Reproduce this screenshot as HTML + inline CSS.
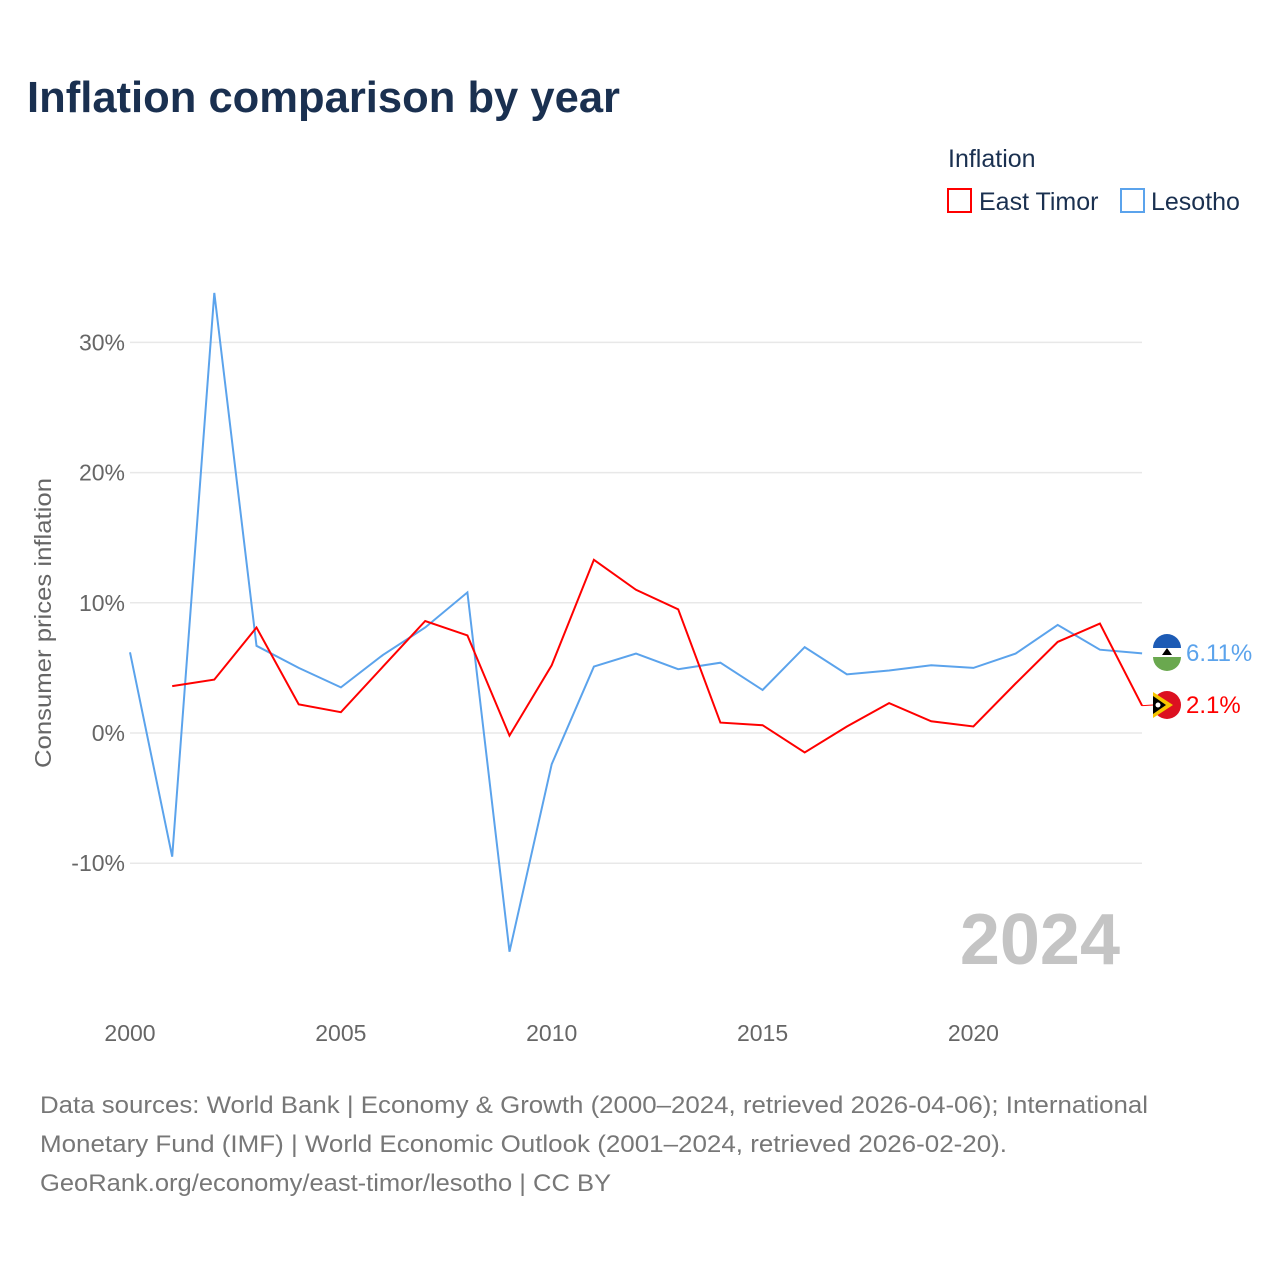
<!DOCTYPE html>
<html><head><meta charset="utf-8">
<style>
body{margin:0;background:#fff;font-family:"Liberation Sans",sans-serif;}
#wrap{position:relative;width:1280px;height:1280px;}
</style></head>
<body>
<div id="wrap">
<svg id="chart" width="1280" height="1280" style="position:absolute;left:0;top:0">
<text x="27" y="112" font-size="44" font-weight="bold" fill="#1a3050" textLength="593" lengthAdjust="spacingAndGlyphs">Inflation comparison by year</text>
<text x="948" y="167" font-size="25" fill="#1a3050">Inflation</text>
<rect x="948" y="189" width="23" height="23" fill="none" stroke="#ff0000" stroke-width="2"/>
<text x="979" y="210" font-size="25" fill="#1a3050">East Timor</text>
<rect x="1121" y="189" width="23" height="23" fill="none" stroke="#5ba3ec" stroke-width="2"/>
<text x="1151" y="210" font-size="25" fill="#1a3050">Lesotho</text>
<text transform="translate(51,623) rotate(-90)" text-anchor="middle" font-size="23" fill="#666" textLength="290" lengthAdjust="spacingAndGlyphs">Consumer prices inflation</text>
<g id="grid"></g><g id="yt"></g><g id="xt"></g><g id="lines"></g>
<text x="1120" y="964" text-anchor="end" font-size="72" font-weight="bold" fill="#c4c4c4">2024</text>
<text font-size="24" fill="#777"><tspan x="40" y="1113" textLength="1108" lengthAdjust="spacingAndGlyphs">Data sources: World Bank | Economy &amp; Growth (2000–2024, retrieved 2026-04-06); International</tspan><tspan x="40" y="1152" textLength="967" lengthAdjust="spacingAndGlyphs">Monetary Fund (IMF) | World Economic Outlook (2001–2024, retrieved 2026-02-20).</tspan><tspan x="40" y="1191" textLength="571" lengthAdjust="spacingAndGlyphs">GeoRank.org/economy/east-timor/lesotho | CC BY</tspan></text>
</svg>
</div>
<script>
const years=[2000,2001,2002,2003,2004,2005,2006,2007,2008,2009,2010,2011,2012,2013,2014,2015,2016,2017,2018,2019,2020,2021,2022,2023,2024];
const lesotho=[6.2,-9.5,33.8,6.7,5.0,3.5,6.0,8.1,10.8,-16.8,-2.4,5.1,6.1,4.9,5.4,3.3,6.6,4.5,4.8,5.2,5.0,6.1,8.3,6.4,6.11];
const eastTimor=[null,3.6,4.1,8.1,2.2,1.6,5.1,8.6,7.5,-0.2,5.2,13.3,11.0,9.5,0.8,0.6,-1.5,0.5,2.3,0.9,0.5,3.8,7.0,8.4,2.1];
const yTicks=[-10,0,10,20,30];
const xTicks=[2000,2005,2010,2015,2020];
const NS="http://www.w3.org/2000/svg";
const X=y=>130+(y-2000)*42.17;
const Y=v=>733-v*13.02;
function mk(t,a,p){const e=document.createElementNS(NS,t);for(const k in a)e.setAttribute(k,a[k]);p.appendChild(e);return e;}
const grid=document.getElementById('grid'),yt=document.getElementById('yt'),xt=document.getElementById('xt'),lines=document.getElementById('lines');
yTicks.forEach(v=>{
 const l=mk('line',{x1:130,x2:1142,y1:Y(v),y2:Y(v),stroke:'#e8e8e8','stroke-width':1.5},grid);
 
 
 const t=mk('text',{x:125,y:Y(v)+8,'text-anchor':'end','font-size':23,fill:'#666'},yt);
 t.textContent=v+'%';
 
 
});
xTicks.forEach(v=>{
 const t=mk('text',{x:X(v),y:1041,'text-anchor':'middle','font-size':23,fill:'#666'},xt);
 t.textContent=v;
 
 
});
function draw(arr,col,name){
 let d='';let pen=false;
 arr.forEach((v,i)=>{if(v===null){pen=false;return;}d+=(pen?'L':'M')+X(years[i]).toFixed(1)+','+Y(v).toFixed(1);pen=true;});
 const p=mk('path',{d:d,fill:'none',stroke:col,'stroke-width':2},lines);
 
 
}
draw(lesotho,'#5ba3ec','line-lesotho');
draw(eastTimor,'#ff0000','line-east-timor');
const lv=lesotho[lesotho.length-1],ev=eastTimor[eastTimor.length-1];
const lyPos=652,eyPos=705;
const g1=mk('g',{},lines);


mk('circle',{cx:1167,cy:lyPos,r:14,fill:'#fff'},g1);
mk('path',{d:`M1153,${lyPos-4} A14,14 0 0 1 1181,${lyPos-4} Z`,fill:'#1d5bb5'},g1);
mk('path',{d:`M1153,${lyPos+5} A14,14 0 0 0 1181,${lyPos+5} Z`,fill:'#6aa84f'},g1);
mk('path',{d:`M1162,${lyPos+3} L1167,${lyPos-4} L1172,${lyPos+3} Z`,fill:'#000'},g1);
const t1=mk('text',{x:1186,y:lyPos+9,'font-size':24,fill:'#5ba3ec'},lines);
t1.textContent=lv.toFixed(2)+'%';


mk('path',{d:`M${X(2024)},${Y(ev)} L1153,${eyPos}`,stroke:'#ff0000','stroke-width':1,fill:'none'},lines);
const g2=mk('g',{},lines);


mk('circle',{cx:1167,cy:eyPos,r:14,fill:'#dc1020'},g2);
mk('path',{d:`M1153,${eyPos-13} L1173,${eyPos} L1153,${eyPos+13} Z`,fill:'#f7c600'},g2);
mk('path',{d:`M1153,${eyPos-9} L1166,${eyPos} L1153,${eyPos+9} Z`,fill:'#000'},g2);
mk('circle',{cx:1158,cy:eyPos,r:2.5,fill:'#fff'},g2);
const t2=mk('text',{x:1186,y:eyPos+8,'font-size':24,fill:'#ff0000'},lines);
t2.textContent=ev+'%';


</script>
</body></html>
